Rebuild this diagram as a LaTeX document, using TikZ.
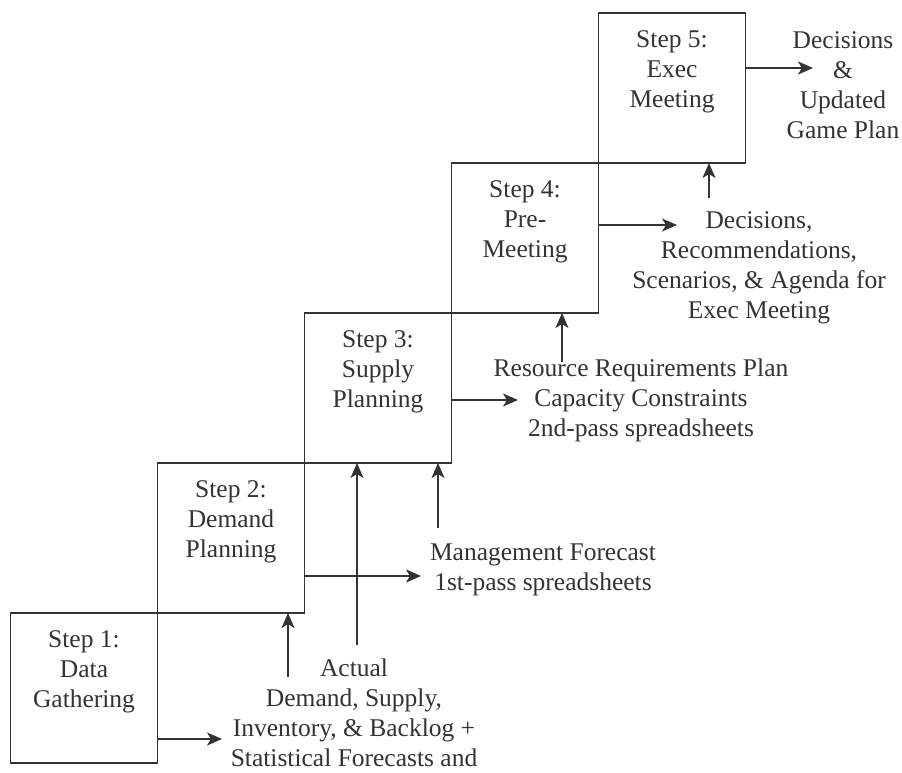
\documentclass[tikz,border=0pt]{standalone}
\usepackage{fontspec}
\setmainfont{Liberation Serif}
\usetikzlibrary{positioning,arrows.meta}
\definecolor{ink}{HTML}{333333}
\begin{document}
\begin{tikzpicture}[x=1pt, y=-1pt, node distance=0pt, font=\fontsize{25.5}{30}\selectfont, color=ink, line width=1.4pt]
            \tikzstyle{stepbox} = [draw=ink, minimum width=147pt, minimum height=150pt, inner sep=0pt, outer sep=0pt]
            \tikzstyle{steptext} = [anchor=north, align=center, yshift=-14pt]
            \tikzstyle{info} = [align=center]
            \tikzstyle{flow} = [-{Stealth[length=15pt,width=13pt,inset=4pt]}]

            \useasboundingbox (0,0) rectangle (902,773);

            \node[stepbox, label={[steptext]north:{Step 1:\\Data\\Gathering}}] (s1) at (84,688) {};
            \node[stepbox, label={[steptext]north:{Step 2:\\Demand\\Planning}}] (s2) [above right=0pt and 0pt of s1] {};
            \node[stepbox, label={[steptext]north:{Step 3:\\Supply\\Planning}}] (s3) [above right=0pt and 0pt of s2] {};
            \node[stepbox, label={[steptext]north:{Step 4:\\Pre-\\Meeting}}] (s4) [above right=0pt and 0pt of s3] {};
            \node[stepbox, label={[steptext]north:{Step 5:\\Exec\\Meeting}}] (s5) [above right=0pt and 0pt of s4] {};

            \node[info] (actual) at (354,713) {Actual\\Demand, Supply,\\Inventory, \& Backlog +\\Statistical Forecasts and};
            \node[info] (mgmt) at (543,570) {Management Forecast\\1st-pass spreadsheets};
            \node[info] (res) at (641,400) {Resource Requirements Plan\\Capacity Constraints\\2nd-pass spreadsheets};
            \node[info] (rec) at (759,268) {Decisions,\\Recommendations,\\Scenarios, \& Agenda for\\Exec Meeting};
            \node[info] (plan) at (843,85) {Decisions\\\&\\Updated\\Game Plan};

            % outputs to the right
            \coordinate (t1) at (222,739);
            \coordinate (t2) at (421,576);
            \coordinate (t3) at (518,400);
            \coordinate (t4) at (677,225);
            \coordinate (t5) at (813,68);
            \draw[flow] (s1.east |- t1) -- (t1);
            \draw[flow] (s2.east |- t2) -- (t2);
            \draw[flow] (s3.east |- t3) -- (t3);
            \draw[flow] (s4.east |- t4) -- (t4);
            \draw[flow] (s5.east |- t5) -- (t5);

            % inputs from below
            \coordinate (u1) at (288,677);
            \coordinate (u2) at (357,645);
            \coordinate (u3) at (438,528);
            \coordinate (u4) at (562,362);
            \coordinate (u5) at (709,198);
            \draw[flow] (u1) -- (u1 |- s2.south);
            \draw[flow] (u2) -- (u2 |- s3.south);
            \draw[flow] (u3) -- (u3 |- s3.south);
            \draw[flow] (u4) -- (u4 |- s4.south);
            \draw[flow] (u5) -- (u5 |- s5.south);
        \end{tikzpicture}
\end{document}
